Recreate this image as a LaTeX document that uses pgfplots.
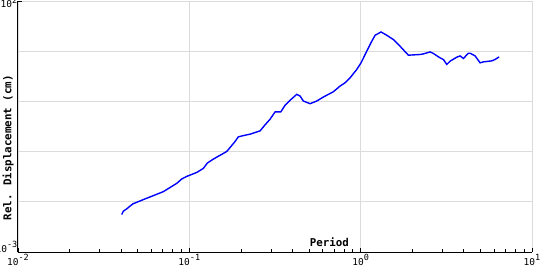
\documentclass[border=0pt]{standalone}
\usepackage{pgfplots}
\pgfplotsset{compat=1.18}
\usepackage{fontspec}
\setmainfont{DejaVu Sans Mono}
\newcommand\tp[1]{10\raisebox{0.45em}{\fontsize{8.5bp}{8.5bp}\selectfont#1}}
\begin{document}
\begin{tikzpicture}
\path[use as bounding box] (-18bp,-18bp) rectangle (522bp,252bp);
\begin{axis}[
  at={(0,0)}, anchor=south west,
  scale only axis, width=514bp, height=251bp,
  xmode=log, ymode=log,
  xmin=1e-2, xmax=1e1, ymin=1e-3, ymax=1e2,
  axis x line*=bottom, axis y line*=left,
  axis line style={black, line width=1bp, -},
  grid=major, major grid style={color=black!14, line width=0.8bp},
  tick align=inside, major tick length=4bp,
  tick style={black, line width=0.8bp},
  xtick={1e-2,1e-1,1,1e1},
  xticklabels={\tp{-2},\tp{-1},\tp{0},\tp{1}},
  ytick={1e-3,1e2},
  yticklabels={\tp{-3},\tp{2}},
  extra y ticks={1e-2,1e-1,1,1e1},
  extra y tick labels={},
  extra y tick style={major tick length=0pt, grid=major},
  tick label style={font=\fontsize{9.5bp}{11bp}\selectfont, inner sep=0pt},
  xticklabel style={anchor=base, yshift=-13bp},
  yticklabel style={anchor=base east, xshift=-0.5bp, yshift={-(\ticknum==1)*7}},
  xlabel={Period},
  ylabel={Rel. Displacement (cm)},
  label style={font=\fontsize{10.8bp}{13bp}\selectfont\bfseries},
  xlabel style={at={(rel axis cs:0.606,0)}, anchor=center, yshift=10bp},
  ylabel style={at={(rel axis cs:0,0.416)}, anchor=center, yshift=10bp},
]
\addplot[blue, line width=1.4bp, no marks] coordinates {
(0.04029,0.005572) (0.04117,0.006486) (0.04311,0.007228) (0.04673,0.009078)
(0.04931,0.009772) (0.05389,0.01106) (0.06163,0.01327) (0.07049,0.01592)
(0.08441,0.02328) (0.09028,0.02845) (0.09656,0.03206) (0.1105,0.03846)
(0.1207,0.04624) (0.1274,0.05916) (0.1381,0.07096) (0.1653,0.1005)
(0.1728,0.1205) (0.1848,0.1585) (0.1932,0.1968) (0.2066,0.2085)
(0.2261,0.2223) (0.2587,0.2588) (0.2766,0.3404) (0.2959,0.4416)
(0.3165,0.6166) (0.3417,0.6166) (0.3620,0.8375) (0.3871,1.052)
(0.4236,1.383) (0.4427,1.280) (0.4628,1.018) (0.5065,0.8995)
(0.5543,1.018) (0.6056,1.222) (0.6927,1.557) (0.7581,2.021)
(0.8107,2.350) (0.8672,2.951) (0.9489,4.335) (1.005,5.861)
(1.085,10.0) (1.161,15.79) (1.214,20.77) (1.315,24.15)
(1.420,20.77) (1.552,17.06) (1.698,12.56) (1.899,8.33)
(2.223,8.60) (2.323,8.84) (2.542,9.68) (2.657,9.00)
(2.908,7.36) (3.040,6.84) (3.182,5.45) (3.326,6.33)
(3.639,7.60) (3.804,8.07) (3.976,7.16) (4.253,9.12)
(4.352,9.12) (4.654,8.07) (4.977,5.86) (5.204,6.13)
(5.826,6.42) (6.091,6.84) (6.427,7.71)
};
\end{axis}
\end{tikzpicture}
\end{document}
